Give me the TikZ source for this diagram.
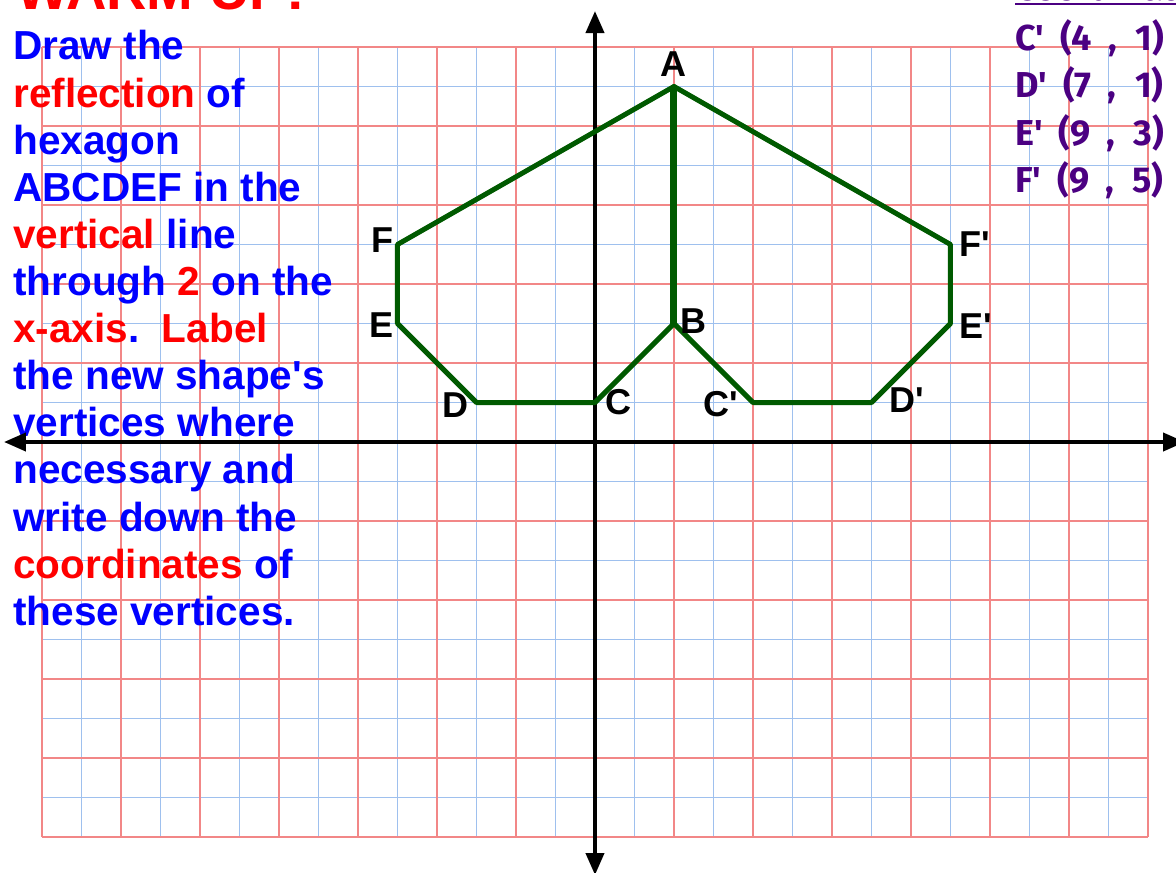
\documentclass[tikz,border=0pt]{standalone}
\usepackage{fontspec}
\setmainfont{Liberation Sans}
\newfontfamily\tfont{Liberation Sans}[Ligatures=TeXOff]
\newfontfamily\cfont{Fira Sans}[Ligatures=TeXOff]
\usetikzlibrary{arrows.meta}
\definecolor{gridred}{RGB}{242,135,135}
\definecolor{gridblue}{RGB}{158,192,238}
\definecolor{polygreen}{RGB}{0,90,0}
\definecolor{tblue}{RGB}{0,0,255}
\definecolor{tred}{RGB}{255,0,0}
\definecolor{cpurple}{RGB}{75,0,130}
\begin{document}
\begin{tikzpicture}[x=29.625pt,y=29.625pt,
  instr/.style={anchor=base west, inner sep=0pt, text=tblue,
    font=\tfont\bfseries\fontsize{30.4}{35}\selectfont},
  vlab/.style={anchor=base west, inner sep=0pt, text=black,
    font=\tfont\bfseries\fontsize{27}{30}\selectfont},
  coordtxt/.style={anchor=base west, inner sep=0pt, text=cpurple,
    font=\cfont\bfseries\fontsize{27}{30}\selectfont},
  axisline/.style={line width=3pt, black,
    {Triangle[length=16.5pt,width=13.5pt]}-{Triangle[length=16.5pt,width=13.5pt]}},
  poly/.style={polygreen, line width=3.75pt, line join=round, line cap=round},
  gridb/.style={gridblue, line width=1.2pt},
  gridr/.style={gridred, line width=1.2pt}]
\useasboundingbox (-15.063,-10.886) rectangle (14.709,11.190);
\fill[white] (-15.063,-10.886) rectangle (14.709,11.190);
% grid
\foreach \i in {-13,-11,...,13} \draw[gridb] (\i,-10) -- (\i,10);
\foreach \j in {-9,-7,...,9} \draw[gridb] (-14,\j) -- (14,\j);
\foreach \i in {-14,-12,...,14} \draw[gridr] (\i,-10) -- (\i,10);
\foreach \j in {-10,-8,...,10} \draw[gridr] (-14,\j) -- (14,\j);
% title (cut off at the top, as in the reference)
\node[anchor=base west, inner sep=0pt, text=tred,
  font=\tfont\bfseries\fontsize{42}{46}\selectfont] (title) at (-14.658,10.937) {WARM UP!};
% instructions
\node[instr] (t1) at (-14.734,9.671) {Draw the};
\node[instr] (t2) at (-14.734,8.478) {\textcolor{tred}{reflection} of};
\node[instr] (t3) at (-14.734,7.286) {hexagon};
\node[instr] (t4) at (-14.734,6.094) {ABCDEF in the};
\node[instr] (t5) at (-14.734,4.901) {\textcolor{tred}{vertical} line};
\node[instr] (t6) at (-14.734,3.709) {through \textcolor{tred}{2} on the};
\node[instr] (t7) at (-14.734,2.516) {\textcolor{tred}{x-axis}.\ \ \textcolor{tred}{Label}};
\node[instr] (t8) at (-14.734,1.324) {the new shape's};
\node[instr] (t9) at (-14.734,0.132) {vertices where};
\node[instr] (t10) at (-14.734,-1.061) {necessary and};
\node[instr] (t11) at (-14.734,-2.253) {write down the};
\node[instr] (t12) at (-14.734,-3.446) {\textcolor{tred}{coordinates} of};
\node[instr] (t13) at (-14.734,-4.638) {these vertices.};
% coordinates list (cut off at the top and right, as in the reference)
\node[coordtxt] (ct) at (10.633,11.165) {Coordinates};
\draw[cpurple, line width=1.6pt] (10.633,11.09) -- (14.9,11.09);
\node[coordtxt] (c1) at (10.633,9.924) {C'\kern12pt(4\kern12pt,\kern14pt1)};
\node[coordtxt] (c2) at (10.633,8.709) {D'\kern12pt(7\kern12pt,\kern14pt1)};
\node[coordtxt] (c3) at (10.633,7.519) {E'\kern12pt(9\kern12pt,\kern14pt3)};
\node[coordtxt] (c4) at (10.633,6.304) {F'\kern12pt(9\kern12pt,\kern14pt5)};
% axes
\coordinate (xl) at (-14.962,0);
\coordinate (xr) at (14.937,0);
\coordinate (yt) at (0,10.911);
\coordinate (yb) at (0,-10.962);
\draw[axisline] (xl) -- (xr);
\draw[axisline] (yb) -- (yt);
% hexagons
\coordinate (A) at (2,9);
\coordinate (B) at (2,3);
\coordinate (C) at (0,1);
\coordinate (D) at (-3,1);
\coordinate (E) at (-5,3);
\coordinate (F) at (-5,5);
\coordinate (Cp) at (4,1);
\coordinate (Dp) at (7,1);
\coordinate (Ep) at (9,3);
\coordinate (Fp) at (9,5);
\draw[poly] (B) -- (C) -- (D) -- (E) -- (F) -- (A);
\draw[poly] (A) -- (Fp) -- (Ep) -- (Dp) -- (Cp) -- (B);
\draw[poly, line width=5.25pt, line cap=butt] (A) -- (B);
% vertex labels
\node[vlab, anchor=base] (lA) at (2,9.241) {A};
\node[vlab] (lB) at (2.152,2.759) {B};
\node[vlab] (lC) at (0.253,0.684) {C};
\node[vlab] (lCp) at (2.734,0.658) {C'};
\node[vlab] (lD) at (-3.873,0.633) {D};
\node[vlab] (lDp) at (7.443,0.759) {D'};
\node[vlab] (lE) at (-5.722,2.658) {E};
\node[vlab] (lEp) at (9.215,2.633) {E'};
\node[vlab] (lF) at (-5.671,4.785) {F};
\node[vlab] (lFp) at (9.215,4.684) {F'};
\end{tikzpicture}
\end{document}
